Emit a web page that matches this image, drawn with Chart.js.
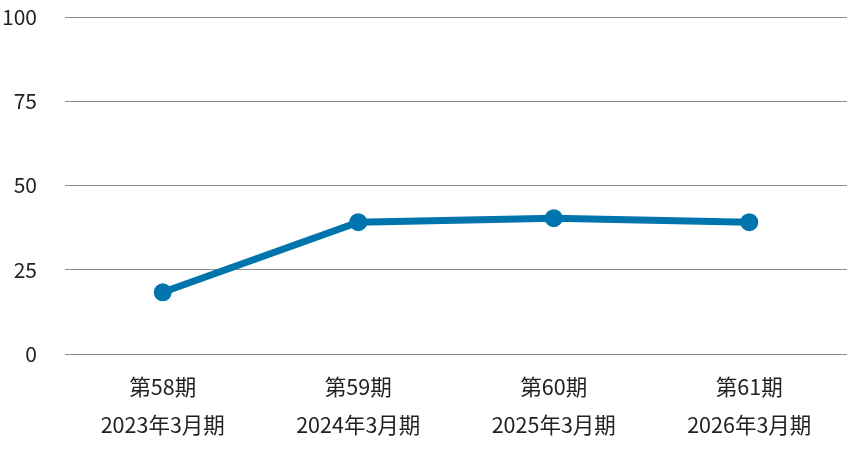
<!DOCTYPE html>
<html>
<head>
<meta charset="utf-8">
<script src="https://cdn.jsdelivr.net/npm/chart.js@4/dist/chart.umd.min.js"></script>
<style>
  html, body { margin: 0; padding: 0; background: #fff; }
  #wrap { width: 848px; height: 451px; }
</style>
</head>
<body>
<div id="wrap"><canvas id="chart"></canvas></div>
<script>
const periods = ["第58期", "第59期", "第60期", "第61期"];
const fiscalYears = ["2023年3月期", "2024年3月期", "2025年3月期", "2026年3月期"];
const values = [18.3, 39.1, 40.3, 39.1];
const yTicks = [0, 25, 50, 75, 100];

const labels = periods.map((p, i) => [p, fiscalYears[i]]);
const font = "'Noto Sans CJK JP', 'Noto Sans', sans-serif";

new Chart(document.getElementById("chart"), {
  type: "line",
  data: {
    labels,
    datasets: [{
      data: values,
      borderColor: "#0075ad",
      backgroundColor: "#0075ad",
      borderWidth: 7,
      pointRadius: 9,
      pointHoverRadius: 9,
      pointBorderWidth: 0,
      tension: 0,
      fill: false
    }]
  },
  options: {
    responsive: true,
    maintainAspectRatio: false,
    animation: false,
    layout: { autoPadding: false, padding: { top: 17, right: 1, left: 0, bottom: 0 } },
    plugins: { legend: { display: false }, tooltip: { enabled: false } },
    scales: {
      x: {
        offset: true,
        grid: { display: false },
        border: { display: false },
        ticks: {
          color: "#222",
          font: { family: font, size: 21.5, lineHeight: 1.75 },
          padding: 6,
          maxRotation: 0,
          autoSkip: false
        },
        afterFit(scale) {
          scale.height = 97;
          scale.paddingLeft = 0;
          scale.paddingRight = 0;
        }
      },
      y: {
        min: 0,
        max: 100,
        afterBuildTicks(scale) { scale.ticks = yTicks.map(v => ({ value: v })); },
        grid: { color: "#8a8a8a", lineWidth: 1, drawTicks: false },
        border: { display: false },
        ticks: {
          color: "#222",
          font: { family: font, size: 21 },
          padding: 28
        },
        afterFit(scale) {
          scale.width = 65;
          scale.paddingTop = 0;
          scale.paddingBottom = 0;
        }
      }
    }
  }
});
</script>
</body>
</html>
